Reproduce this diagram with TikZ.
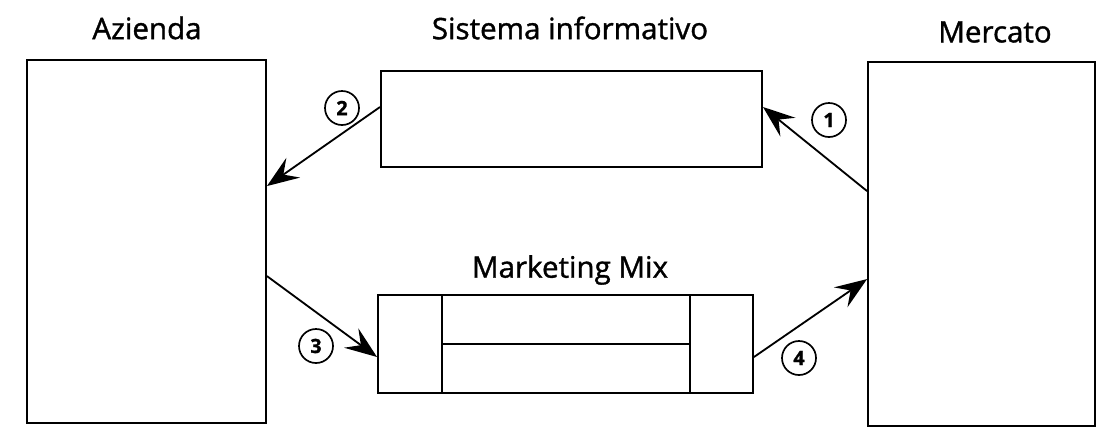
\documentclass[tikz,border=0pt]{standalone}
\usepackage{fontspec}
\setmainfont{Open Sans}[FakeBold=1.2]
\usetikzlibrary{arrows.meta}

\begin{document}
\begin{tikzpicture}[x=0.025cm,y=-0.025cm,
  box/.style={draw,line width=1.3pt,inner sep=0pt},
  title/.style={font=\fontsize{21}{24}\selectfont},
  num/.style={draw,circle,line width=1.2pt,minimum size=0.85cm,inner sep=0pt,font=\fontsize{14}{16}\selectfont\bfseries},
  flow/.style={line width=1.3pt,-{Stealth[length=0.8cm,width=0.6cm,inset=0.3cm]}}]
\useasboundingbox (0,0) rectangle (1108,428);
\node[box,minimum width=5.975cm,minimum height=9.075cm] (azienda) at (146.5,241.5) {};
\node[box,minimum width=5.675cm,minimum height=9.1cm] (mercato) at (981.5,244) {};
\node[box,minimum width=9.525cm,minimum height=2.4cm] (sist) at (571.5,119) {};
\node[box,minimum width=9.375cm,minimum height=2.45cm] (mix) at (565.5,344) {};
\draw[line width=1.3pt] ([xshift=1.625cm]mix.north west) -- ([xshift=1.625cm]mix.south west);
\draw[line width=1.3pt] ([xshift=-1.6cm]mix.north east) -- ([xshift=-1.6cm]mix.south east);
\draw[line width=1.3pt] ([xshift=1.625cm]mix.west) -- ([xshift=-1.6cm]mix.east);
\node[title] (tazienda) at (147,28) {Azienda};
\node[title] (tsist) at (570,28) {Sistema informativo};
\node[title] (tmercato) at (995,32) {Mercato};
\node[title] (tmix) at (570,270) {Marketing Mix};
\draw[flow] ([yshift=-3.25cm]mercato.north west) -- ([yshift=0.3cm]sist.east);
\draw[flow] ([yshift=0.3cm]sist.west) -- ([yshift=-3.175cm]azienda.north east);
\draw[flow] ([yshift=-5.425cm]azienda.north east) -- ([yshift=-0.325cm]mix.west);
\draw[flow] ([yshift=-0.325cm]mix.east) -- ([yshift=-5.45cm]mercato.north west);
\node[num] (n1) at (829,120) {1};
\node[num] (n2) at (342,108) {2};
\node[num] (n3) at (316,346) {3};
\node[num] (n4) at (799,358) {4};
\end{tikzpicture}
\end{document}
